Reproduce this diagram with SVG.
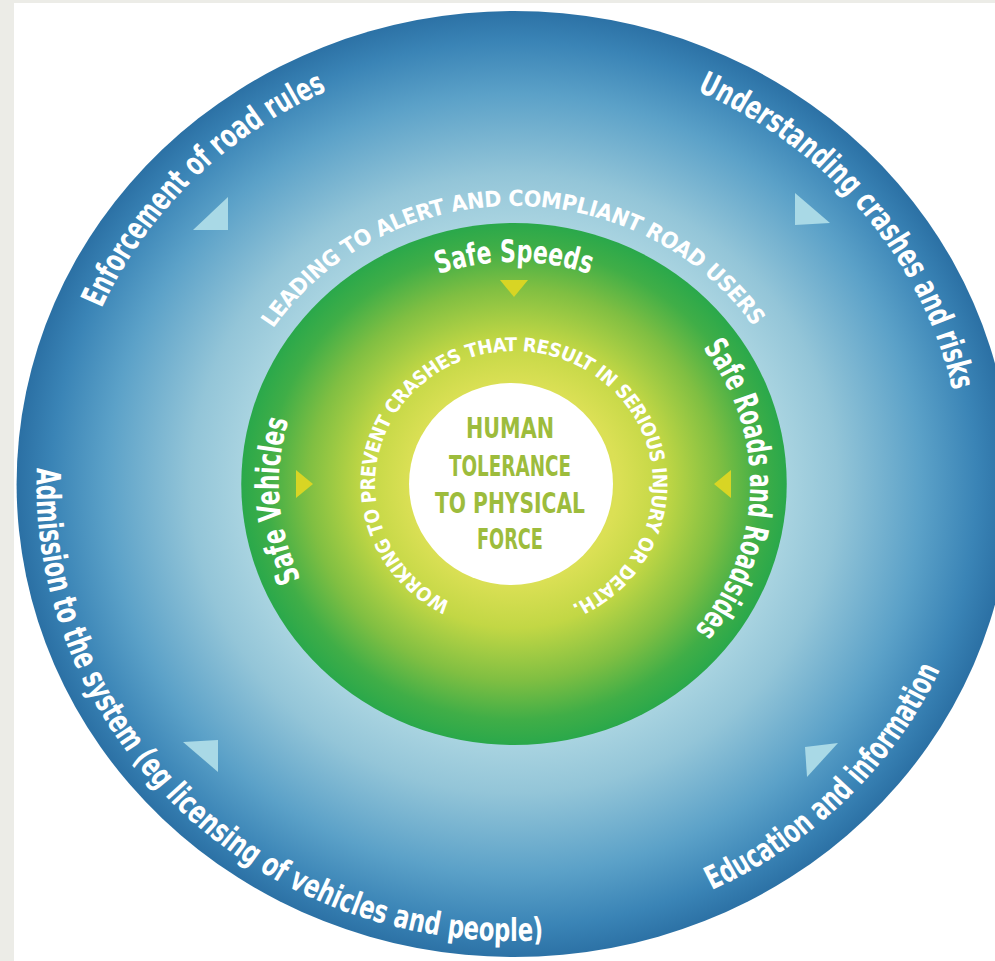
<svg xmlns="http://www.w3.org/2000/svg" width="995" height="961" viewBox="0 0 995 961">
<defs>
<radialGradient id="gBlue" gradientUnits="userSpaceOnUse" cx="0" cy="0" r="476">
<stop offset="0.55" stop-color="#a8d3e0"/>
<stop offset="0.65" stop-color="#93c5d8"/>
<stop offset="0.82" stop-color="#5ba1c8"/>
<stop offset="0.93" stop-color="#3a84b6"/>
<stop offset="1" stop-color="#2b70a4"/>
</radialGradient>
<radialGradient id="gGreen" gradientUnits="userSpaceOnUse" cx="0" cy="0" r="262">
<stop offset="0.38" stop-color="#dbe055"/>
<stop offset="0.55" stop-color="#c2d745"/>
<stop offset="0.75" stop-color="#80bf42"/>
<stop offset="0.9" stop-color="#40ae47"/>
<stop offset="1" stop-color="#29a84b"/>
</radialGradient>
<path id="pEnf" d="M -394.6 -175.7 A 432 432 0 0 1 -111.8 -417.3"/>
<path id="pUnd" d="M 174.9 -392.8 A 430 430 0 0 1 428.4 -37.5"/>
<path id="pAdm" d="M -456.7 -15.9 A 457 457 0 0 0 95.0 447.0"/>
<path id="pEdu" d="M 189.3 406.0 A 448 448 0 0 0 432.7 115.9"/>
<path id="pLead" d="M -230.5 -155.5 A 278 278 0 0 1 252.0 -117.5"/>
<path id="pWork" d="M -60.4 118.5 A 133 133 0 1 1 45.5 125.0"/>
<path id="pSpeeds" d="M -142.7 -170.1 A 222 222 0 0 1 142.7 -170.1"/>
<path id="pVeh" d="M -203.9 95.1 A 225 225 0 0 1 -203.9 -95.1"/>
<path id="pRoads" d="M 180.5 -136.0 A 226 226 0 0 1 145.3 173.1"/>
</defs>
<style>
.lbl { font-family: "Liberation Sans Narrow", "Arial Narrow", "DejaVu Sans Condensed", "Liberation Sans", sans-serif; font-weight: bold; fill: #ffffff; }
.big { font-size: 32px; }
.mid { font-size: 31px; }
.caps1 { font-size: 22px; }
.caps2 { font-size: 19px; }
.core { font-family: "Liberation Sans Narrow", "Arial Narrow", "DejaVu Sans Condensed", "Liberation Sans", sans-serif; font-weight: bold; font-size: 28px; fill: #9dbc3c; text-anchor: middle; }
.arrowB { fill: #a9d9e6; }
.arrowY { fill: #d8d524; }
</style>
<rect x="0" y="0" width="995" height="961" fill="#ffffff"/>
<rect x="0" y="0" width="995" height="3" fill="#ececE7"/>
<rect x="0" y="0" width="14" height="961" fill="#ececE7"/>

<g transform="translate(514,484) scale(1.045,1)">
  <g id="outer-ring">
    <ellipse cx="0" cy="0" rx="476" ry="473" fill="url(#gBlue)"/>
  </g>
  <g id="green-ring">
    <circle cx="0" cy="0" r="261" fill="url(#gGreen)"/>
  </g>

  <g id="enforcement">
    <text class="lbl big"><textPath href="#pEnf" textLength="313" lengthAdjust="spacingAndGlyphs">Enforcement of road rules</textPath></text>
  </g>
  <g id="understanding">
    <text class="lbl big"><textPath href="#pUnd" textLength="401" lengthAdjust="spacingAndGlyphs">Understanding crashes and risks</textPath></text>
  </g>
  <g id="admission">
    <text class="lbl big"><textPath href="#pAdm" textLength="762" lengthAdjust="spacingAndGlyphs">Admission to the system (eg licensing of vehicles and people)</textPath></text>
  </g>
  <g id="education">
    <text class="lbl big"><textPath href="#pEdu" textLength="317" lengthAdjust="spacingAndGlyphs">Education and information</textPath></text>
  </g>
  <g id="leading">
    <text class="lbl caps1" letter-spacing="2"><textPath href="#pLead" textLength="543" lengthAdjust="spacing">LEADING TO ALERT AND COMPLIANT ROAD USERS</textPath></text>
  </g>
  <g id="safe-speeds">
    <text class="lbl mid" text-anchor="middle"><textPath href="#pSpeeds" startOffset="50%" textLength="147" lengthAdjust="spacingAndGlyphs">Safe Speeds</textPath></text>
  </g>
  <g id="safe-vehicles">
    <text class="lbl mid"><textPath href="#pVeh" textLength="163" lengthAdjust="spacingAndGlyphs">Safe Vehicles</textPath></text>
  </g>
  <g id="safe-roads">
    <text class="lbl mid"><textPath href="#pRoads" textLength="304" lengthAdjust="spacingAndGlyphs">Safe Roads and Roadsides</textPath></text>
  </g>
  <g id="working">
    <text class="lbl caps2" letter-spacing="1"><textPath href="#pWork" textLength="717" lengthAdjust="spacing">WORKING TO PREVENT CRASHES THAT RESULT IN SERIOUS INJURY OR DEATH.</textPath></text>
  </g>
</g>

<g id="core">
  <ellipse cx="511" cy="484" rx="102" ry="101" fill="#ffffff"/>
  <text class="core" x="510" y="438" textLength="88" lengthAdjust="spacingAndGlyphs">HUMAN</text>
  <text class="core" x="510" y="476" textLength="122" lengthAdjust="spacingAndGlyphs">TOLERANCE</text>
  <text class="core" x="510" y="513" textLength="150" lengthAdjust="spacingAndGlyphs">TO PHYSICAL</text>
  <text class="core" x="510" y="549" textLength="66" lengthAdjust="spacingAndGlyphs">FORCE</text>
</g>

<g id="connectors">
  <polygon class="arrowY" points="500,280 528,280 514,297"/>
  <polygon class="arrowY" points="296,470 296,498 313,484"/>
  <polygon class="arrowY" points="731,470 731,498 714,484"/>
  <polygon class="arrowB" points="193,230 228,230 228,197"/>
  <polygon class="arrowB" points="795,193 795,225 830,223"/>
  <polygon class="arrowB" points="805,747 838,743 807,777"/>
  <polygon class="arrowB" points="183,742 218,740 218,772"/>
</g>
</svg>
